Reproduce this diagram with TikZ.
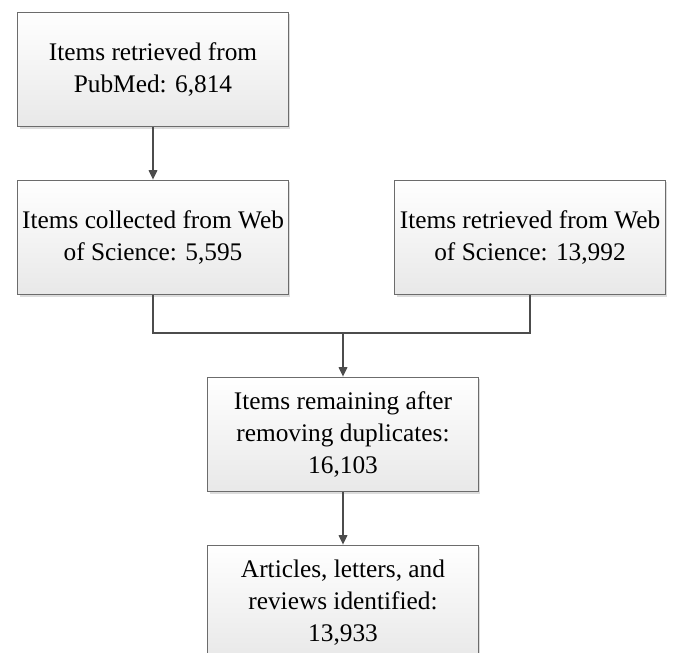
\documentclass[tikz,border=0pt]{standalone}
\usepackage{fontspec}
\setmainfont{Liberation Serif}
\usetikzlibrary{arrows.meta,shadows}

\begin{document}
\begin{tikzpicture}[x=0.75pt, y=-0.75pt,
        box/.style={rectangle, draw=gray!85!black, line width=0.9pt,
                top color=white, bottom color=gray!18,
                drop shadow={shadow xshift=1.6pt, shadow yshift=-1.6pt, fill=gray!55},
                minimum width=203pt, minimum height=86pt, inner sep=1pt,
                align=center, font=\fontsize{19}{24}\selectfont},
        link/.style={draw=black!70, line width=0.9pt},
        arr/.style={link, -{Triangle[length=7pt, width=6.5pt]}}]
        \useasboundingbox (0, 0) rectangle (676, 653);

        \node[box] (pubmed) at (153, 69.5) {Items retrieved from\\PubMed: 6,814};
        \node[box] (wosa) at (153, 237.5) {Items collected from Web\\of Science: 5,595};
        \node[box] (wosb) at (530, 237.5) {Items retrieved from Web\\of Science: 13,992};
        \node[box] (dedup) at (343, 434.5) {Items remaining after\\removing duplicates:\\16,103};
        \node[box] (final) at (343, 602.5) {Articles, letters, and\\reviews identified:\\13,933};
        \coordinate (join) at (343, 333);

        \draw[arr] (pubmed) -- (wosa);
        \draw[link] (wosa) |- (join);
        \draw[link] (wosb) |- (join);
        \draw[arr] (join) -- (dedup);
        \draw[arr] (dedup) -- (final);
\end{tikzpicture}
\end{document}
